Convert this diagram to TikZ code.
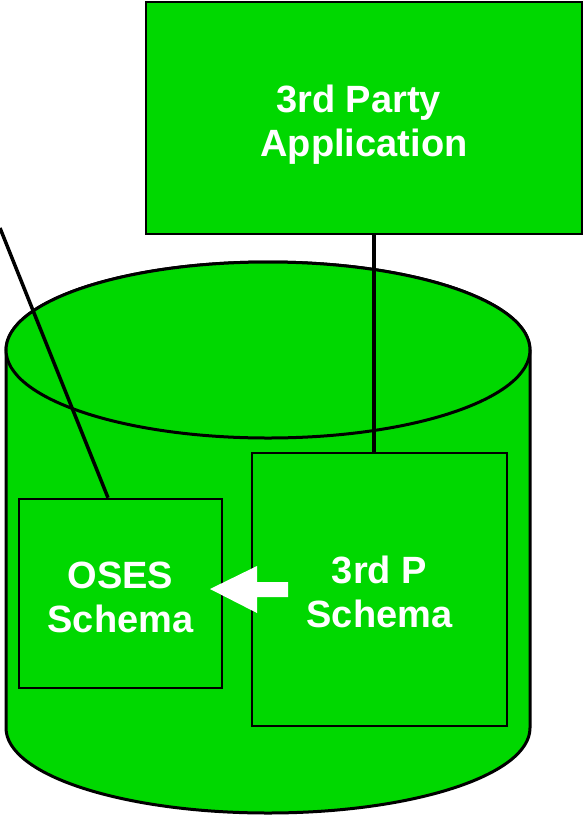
\documentclass[tikz,border=0pt]{standalone}
\usepackage{fontspec}
\setmainfont{Liberation Sans}
\usetikzlibrary{calc}
\definecolor{dbgreen}{HTML}{00D800}
\tikzset{
  box/.style={draw=black, line width=2.5pt, fill=dbgreen, rectangle, inner sep=0pt,
    text=white, font=\bfseries\fontsize{38}{44}\selectfont, align=center},
  cyl/.style={draw=black, line width=3pt, fill=dbgreen},
  conn/.style={draw=black, line width=3.5pt},
  whitearrow/.style={fill=white, draw=none}
}
\begin{document}
\begin{tikzpicture}[x=1pt, y=-1pt]
\useasboundingbox (0,0) rectangle (583,815);
% cylinder
\filldraw[cyl] (6,350) -- (6,728) arc[start angle=180, end angle=360, x radius=262pt, y radius=85pt]
  -- (530,350) arc[start angle=0, end angle=180, x radius=262pt, y radius=88pt] -- cycle;
\draw[cyl] (268,350) ellipse [x radius=262pt, y radius=88pt];
% nodes
\node[box, minimum width=436pt, minimum height=232pt] (app) at (364,118) {\rule{0pt}{40pt}3rd Party\hspace*{0.28em}\\Application};
\node[box, minimum width=255pt, minimum height=273pt] (p3) at (379.5,589.5) {\rule{0pt}{32pt}3rd P\\Schema};
\node[box, minimum width=203pt, minimum height=189pt] (oses) at (120.5,593.5) {\rule{0pt}{34pt}OSES\\Schema};
% connectors
\coordinate (lt) at (0,228);
\draw[conn] (lt) -- ([xshift=-12.5pt]oses.north);
\draw[conn] ([xshift=10pt]app.south) -- ([xshift=10pt]app.south |- p3.north);
% white arrow
\fill[whitearrow] (210,589) -- (257,566) -- (257,582) -- (288,582) -- (288,597) -- (257,597) -- (257,613) -- cycle;
\end{tikzpicture}
\end{document}
